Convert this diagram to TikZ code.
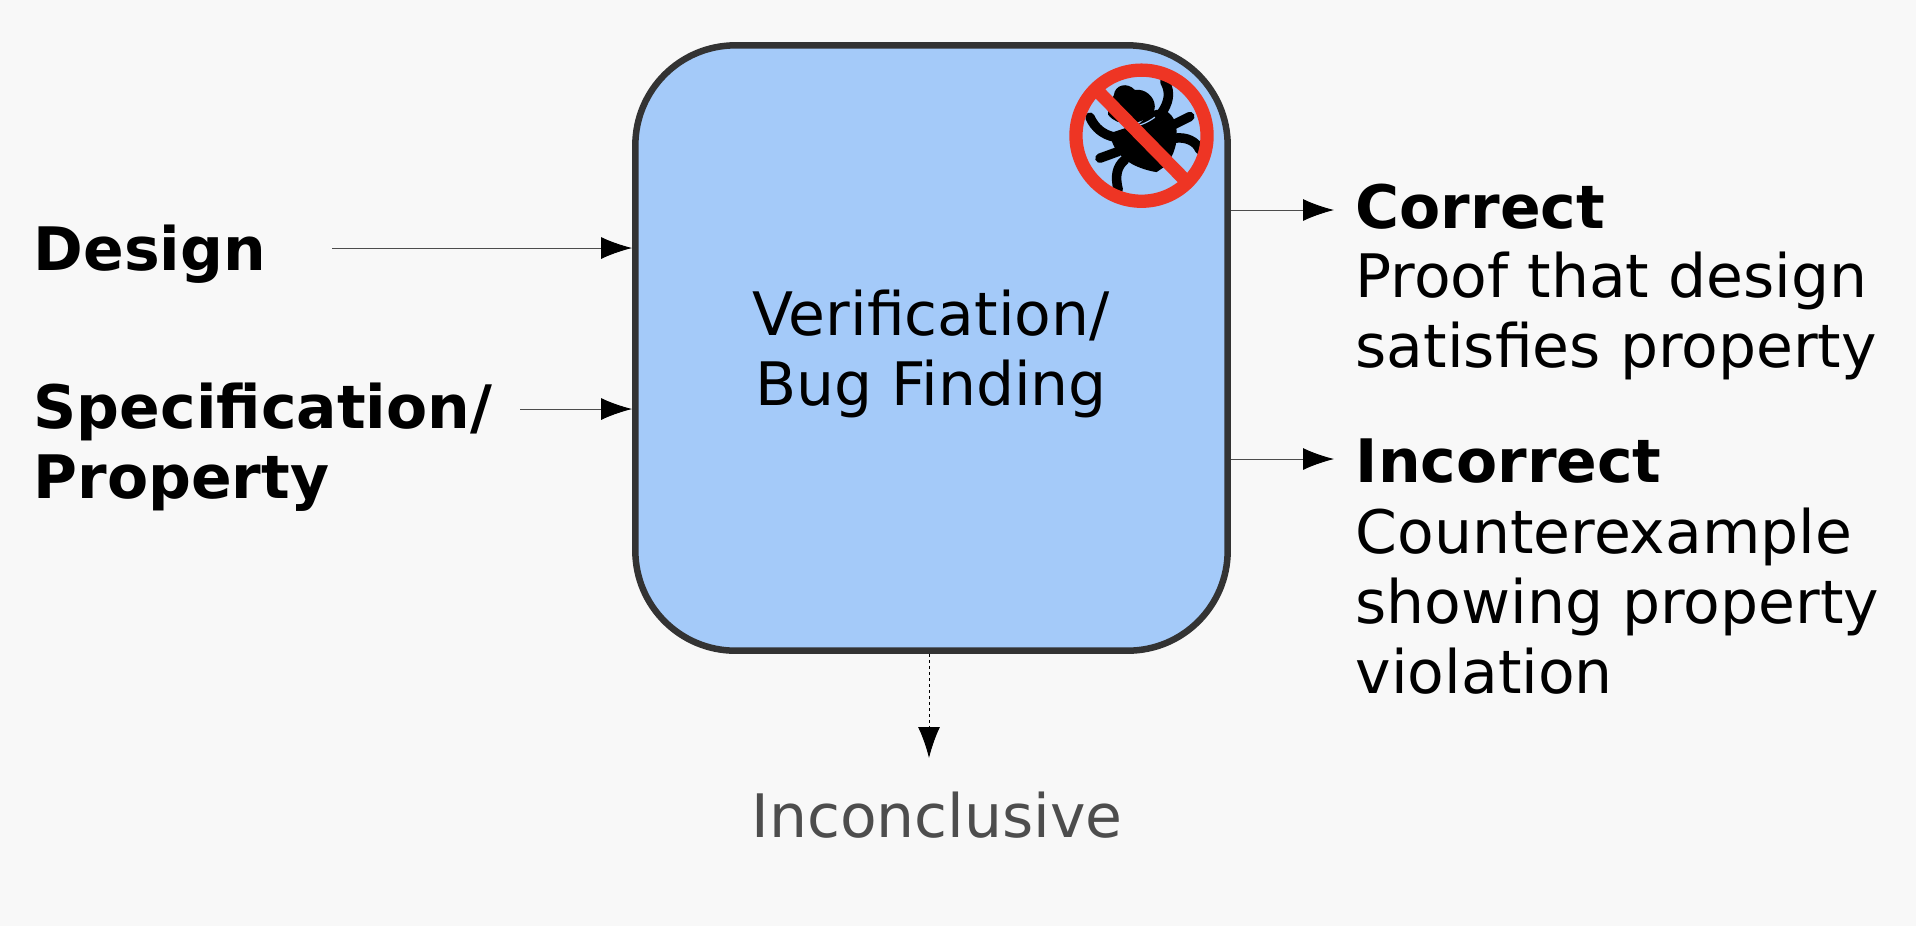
\documentclass[tikz,border=0pt]{standalone}
\usepackage{fontspec}
\setmainfont{DejaVu Sans}
\usetikzlibrary{arrows.meta}
\definecolor{pagegray}{HTML}{F8F8F8}
\definecolor{boxblue}{HTML}{A4CAF9}
\definecolor{boxline}{HTML}{333333}
\definecolor{signred}{HTML}{EE3524}
\definecolor{softtext}{HTML}{4D4D4D}
\tikzset{
  labeltext/.style={inner sep=0pt,align=left,anchor=base west,font=\fontsize{17.05}{19.9}\selectfont},
  flow/.style={line width=0.01cm,draw=black!70,-{Latex[length=0.31cm,width=0.22cm,black]}},
  bugleg/.style={line width=0.095cm,line cap=round},
}
\begin{document}
\begin{tikzpicture}[x=0.01cm,y=-0.01cm]
      \useasboundingbox (0,0) rectangle (1916,926);
      \fill[pagegray] (0,0) rectangle (1916,926);
      \node[draw=boxline,fill=boxblue,line width=0.065cm,rounded corners=1cm,
        minimum width=5.92cm,minimum height=6.05cm] (verify) at (931.5,348) {};
      \node[labeltext,anchor=base,align=center] (verifytext) at (931,405) {Verification/\\Bug Finding};
      \node[labeltext] (design) at (33,270) {\textbf{Design}};
      \node[labeltext] (spec) at (33,428) {\textbf{Specification/}};
      \node[labeltext] (prop) at (33,498) {\textbf{Property}};
      \node[labeltext] (correct) at (1355,228) {\textbf{Correct}};
      \node[labeltext] (proof) at (1355,297) {Proof that design};
      \node[labeltext] (satisfies) at (1355,367) {satisfies property};
      \node[labeltext] (incorrect) at (1355,482) {\textbf{Incorrect}};
      \node[labeltext] (counter) at (1355,553) {Counterexample};
      \node[labeltext] (showing) at (1355,623) {showing property};
      \node[labeltext] (violation) at (1355,693) {violation};
      \node[labeltext,anchor=base,text=softtext] (inconclusive) at (937,837) {Inconclusive};
      % free ends of the arrows
      \coordinate (designout) at (332,248);
      \coordinate (specout) at (520,409);
      \coordinate (correctin) at (1334,210);
      \coordinate (incorrectin) at (1334,459);
      \coordinate (inconclusivein) at (929,758);
      \draw[flow] (designout) -- (designout -| verify.west);
      \draw[flow] (specout) -- (specout -| verify.west);
      \draw[flow] (correctin -| verify.east) -- (correctin);
      \draw[flow] (incorrectin -| verify.east) -- (incorrectin);
      \draw[flow,draw=black,dash pattern=on 0.03cm off 0.03cm] (inconclusivein |- verify.south) -- (inconclusivein);
      % crossed out bug
      \begin{scope}[shift={(1040,40)},x=0.00333cm,y=-0.00333cm]
        \fill (210,280) .. controls (220,350) and (280,385) .. (350,397)
          -- (372,382) .. controls (405,350) and (418,300) .. (407,250)
          .. controls (395,212) and (365,203) .. (340,213) -- (300,250) -- cycle;
        \draw[boxblue,line width=0.012cm] (205,235) .. controls (240,275) and (300,265) .. (345,232);
        \fill (222,165) .. controls (225,135) and (262,125) .. (285,150)
          .. controls (315,145) and (345,170) .. (345,200)
          .. controls (345,218) and (335,228) .. (320,235)
          .. controls (290,255) and (235,262) .. (205,225)
          .. controls (200,205) and (215,185) .. cycle;
        \draw[bugleg] (150,232) .. controls (165,265) and (190,285) .. (225,292);
        \draw[bugleg] (375,125) .. controls (395,160) and (385,190) .. (365,220);
        \draw[bugleg] (400,255) -- (450,230);
        \draw[bugleg] (405,295) .. controls (440,290) and (470,305) .. (480,330);
        \draw[bugleg] (180,355) -- (235,335);
        \draw[bugleg] (235,450) .. controls (225,410) and (230,380) .. (255,360);
        \draw[signred,line width=0.133cm] (305,287.5) circle (197);
        \draw[signred,line width=0.133cm] (175,155) -- (435,420);
      \end{scope}
    \end{tikzpicture}
\end{document}
